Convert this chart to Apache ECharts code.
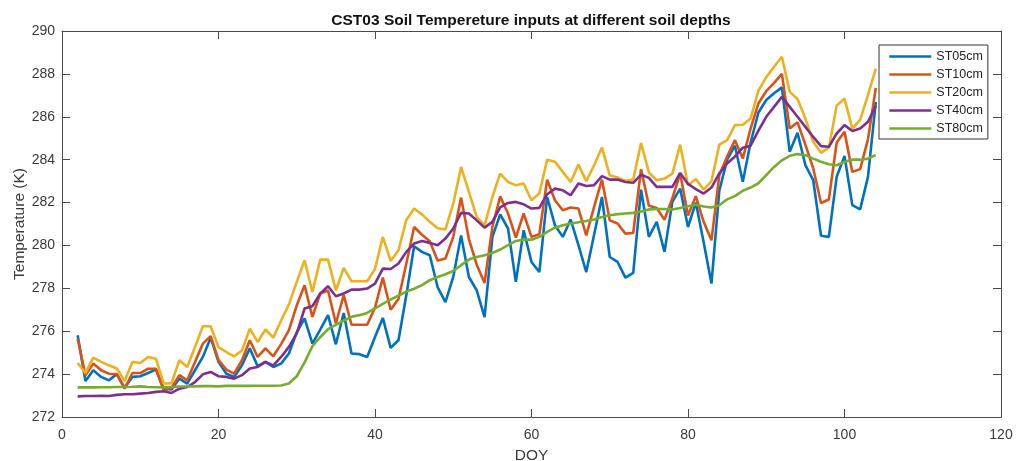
<!DOCTYPE html>
<html>
<head>
<meta charset="utf-8">
<script src="https://cdn.jsdelivr.net/npm/echarts@6/dist/echarts.min.js"></script>
<style>
  html, body { margin: 0; padding: 0; background: #ffffff; }
  #chart { width: 1017px; height: 461px; }
</style>
</head>
<body>
<div id="chart"></div>
<script>
// Daily soil temperature (K) at CST03, DOY 2 .. 104
const firstDoy = 2;

const st05 = [
  275.81, 273.68, 274.18, 273.87, 273.71, 274.00, 273.37, 273.87, 273.90, 274.05,
  274.21, 273.32, 273.28, 273.79, 273.56, 274.18, 274.80, 275.70, 274.57, 274.02,
  273.87, 274.41, 275.20, 274.37, 274.57, 274.33, 274.49, 274.96, 275.95, 276.60,
  275.42, 276.08, 276.75, 275.39, 276.85, 274.96, 274.93, 274.80, 275.73, 276.62,
  275.22, 275.58, 277.68, 279.96, 279.70, 279.54, 278.06, 277.36, 278.53, 280.47,
  278.53, 277.91, 276.66, 280.40, 281.45, 280.79, 278.30, 280.71, 279.23, 278.76,
  282.26, 280.94, 280.40, 281.21, 280.01, 278.76, 280.50, 282.26, 279.46, 279.23,
  278.50, 278.72, 282.60, 280.40, 281.10, 279.70, 282.03, 282.65, 280.86, 282.00,
  280.15, 278.22, 282.55, 284.00, 284.65, 282.97, 284.80, 286.20, 286.78, 287.10,
  287.37, 284.37, 285.25, 283.75, 283.05, 280.45, 280.40, 283.20, 284.17, 281.88,
  281.68, 283.20, 286.70
];

const st10 = [
  275.65, 273.95, 274.49, 274.18, 274.02, 274.00, 273.32, 274.05, 274.05, 274.25,
  274.25, 273.24, 273.37, 273.95, 273.71, 274.57, 275.42, 275.77, 274.65, 274.21,
  274.02, 274.65, 275.58, 274.80, 275.20, 274.83, 275.40, 276.05, 277.20, 278.14,
  276.67, 277.76, 277.90, 276.36, 277.68, 276.30, 276.30, 276.30, 277.10, 278.50,
  277.00, 277.50, 279.15, 280.86, 280.50, 280.20, 279.30, 279.39, 280.40, 282.23,
  280.30, 279.10, 278.25, 280.86, 282.29, 281.49, 280.37, 281.49, 280.40, 280.52,
  283.07, 282.11, 281.64, 281.77, 281.72, 280.47, 281.80, 283.07, 281.17, 281.02,
  280.55, 280.58, 283.56, 281.85, 281.75, 281.20, 282.20, 283.35, 281.40, 282.30,
  281.10, 280.24, 283.27, 284.15, 284.91, 284.05, 285.45, 286.62, 287.20, 287.58,
  288.00, 285.45, 285.74, 284.70, 283.60, 281.98, 282.14, 284.80, 285.30, 283.43,
  283.56, 284.95, 287.35
];

const st20 = [
  274.52, 274.05, 274.77, 274.57, 274.41, 274.26, 273.68, 274.57, 274.52, 274.80,
  274.72, 273.55, 273.58, 274.65, 274.33, 275.26, 276.23, 276.23, 275.26, 275.03,
  274.83, 275.10, 276.12, 275.50, 276.08, 275.70, 276.50, 277.25, 278.30, 279.31,
  277.83, 279.34, 279.34, 277.90, 278.95, 278.33, 278.33, 278.33, 278.90, 280.40,
  279.28, 279.78, 281.18, 281.72, 281.45, 281.10, 280.80, 280.75, 281.95, 283.66,
  282.50, 281.33, 280.94, 282.26, 283.35, 282.96, 282.81, 282.89, 282.11, 282.42,
  284.00, 283.90, 283.43, 282.96, 283.77, 283.00, 283.74, 284.57, 283.27, 283.17,
  283.01, 283.07, 284.78, 283.40, 283.04, 283.12, 283.35, 284.70, 282.81, 283.10,
  282.60, 283.00, 284.70, 284.91, 285.61, 285.63, 285.92, 287.22, 287.85, 288.33,
  288.80, 287.16, 286.83, 285.92, 284.83, 284.32, 284.56, 286.52, 286.85, 285.45,
  285.86, 287.01, 288.25
];

const st40 = [
  272.96, 272.98, 272.98, 272.99, 272.98, 273.03, 273.06, 273.06, 273.09, 273.12,
  273.17, 273.20, 273.12, 273.32, 273.40, 273.63, 273.99, 274.10, 273.90, 273.87,
  273.79, 273.95, 274.26, 274.33, 274.57, 274.41, 274.80, 275.27, 275.90, 277.06,
  277.17, 277.76, 278.10, 277.63, 277.76, 277.94, 277.94, 277.99, 278.22, 278.92,
  278.90, 279.16, 279.70, 280.09, 280.21, 280.12, 280.01, 280.32, 280.79, 281.52,
  281.49, 281.17, 280.83, 281.10, 281.77, 281.98, 282.03, 281.92, 281.72, 281.75,
  282.39, 282.65, 282.57, 282.34, 282.89, 282.77, 282.81, 283.23, 283.07, 283.07,
  282.96, 282.92, 283.30, 283.15, 282.73, 282.73, 282.73, 283.38, 282.87, 282.63,
  282.42, 282.70, 283.36, 283.82, 284.15, 284.56, 284.65, 285.35, 286.00, 286.46,
  286.93, 286.46, 286.00, 285.53, 285.06, 284.63, 284.60, 285.22, 285.61, 285.34,
  285.45, 285.77, 286.50
];

const st80 = [
  273.38, 273.38, 273.38, 273.39, 273.39, 273.40, 273.40, 273.41, 273.43, 273.40,
  273.39, 273.38, 273.40, 273.42, 273.42, 273.43, 273.44, 273.44, 273.43, 273.45,
  273.46, 273.45, 273.45, 273.46, 273.46, 273.46, 273.47, 273.56, 273.90, 274.55,
  275.30, 275.72, 276.10, 276.30, 276.50, 276.67, 276.75, 276.85, 277.06, 277.28,
  277.48, 277.66, 277.85, 277.98, 278.15, 278.38, 278.53, 278.66, 278.81, 279.08,
  279.34, 279.46, 279.54, 279.65, 279.81, 280.01, 280.21, 280.27, 280.27, 280.40,
  280.63, 280.83, 280.94, 281.02, 281.08, 281.14, 281.21, 281.33, 281.41, 281.46,
  281.49, 281.52, 281.58, 281.68, 281.70, 281.70, 281.68, 281.75, 281.83, 281.90,
  281.82, 281.77, 281.87, 282.15, 282.30, 282.55, 282.70, 282.90, 283.28, 283.66,
  283.97, 284.18, 284.26, 284.21, 284.05, 283.90, 283.79, 283.74, 283.90, 284.00,
  284.00, 284.05, 284.21
];

const seriesNames = ['ST05cm', 'ST10cm', 'ST20cm', 'ST40cm', 'ST80cm'];
const seriesColors = ['#0072BD', '#D95319', '#EDB120', '#7E2F8E', '#77AC30'];
const seriesValues = [st05, st10, st20, st40, st80];

// axis ranges and ticks
const xMin = 0, xMax = 120, xStep = 20;
const yMin = 272, yMax = 290, yStep = 2;

const font = "'Liberation Sans', Arial, Helvetica, sans-serif";
const axisColor = '#4a4a4a';
const labelColor = '#3a3a3a';
const lineWidth = 2.6;

function pairs(values) {
  return values.map((v, i) => [firstDoy + i, v]);
}

// value axis drawn as one side of the boxed frame, ticks pointing inwards
function boxAxis(extra) {
  return Object.assign({
    type: 'value',
    axisLine: { show: true, onZero: false, lineStyle: { color: axisColor, width: 1 } },
    axisTick: { show: true, inside: true, length: 8, lineStyle: { color: axisColor, width: 1 } },
    splitLine: { show: false },
    axisLabel: { show: false }
  }, extra);
}

const chart = echarts.init(document.getElementById('chart'), null, { renderer: 'canvas' });

chart.setOption({
  animation: false,
  backgroundColor: '#ffffff',
  title: {
    text: 'CST03 Soil Tempereture inputs at different soil depths',
    left: 526,
    top: 8,
    textAlign: 'center',
    textStyle: { fontFamily: font, fontSize: 15.5, fontWeight: 'bold', color: '#111111' }
  },
  grid: {
    left: 62, right: 16, top: 31, bottom: 44,
    containLabel: false,
    outerBoundsMode: 'none'
  },
  legend: {
    orient: 'vertical',
    left: 879,
    top: 45,
    itemWidth: 42,
    itemHeight: 14,
    itemGap: 5,
    padding: [5, 5, 4, 9],
    borderColor: '#333333',
    borderWidth: 1,
    backgroundColor: '#ffffff',
    data: seriesNames,
    itemStyle: { opacity: 0 },
    lineStyle: { width: lineWidth },
    textStyle: { fontFamily: font, fontSize: 12.5, color: '#222222' }
  },
  xAxis: [
    boxAxis({
      position: 'bottom',
      min: xMin, max: xMax, interval: xStep,
      name: 'DOY',
      nameLocation: 'middle',
      nameGap: 31,
      nameMoveOverlap: false,
      nameTextStyle: { fontFamily: font, fontSize: 15.5, color: labelColor },
      axisLabel: { show: true, margin: 11, fontFamily: font, fontSize: 14, color: labelColor }
    }),
    boxAxis({ position: 'top', min: xMin, max: xMax, interval: xStep })
  ],
  yAxis: [
    boxAxis({
      position: 'left',
      min: yMin, max: yMax, interval: yStep,
      name: 'Temperature (K)',
      nameLocation: 'middle',
      nameGap: 34,
      nameMoveOverlap: false,
      nameTextStyle: { fontFamily: font, fontSize: 15.5, color: labelColor },
      axisLabel: { show: true, margin: 7, fontFamily: font, fontSize: 14, color: labelColor }
    }),
    boxAxis({ position: 'right', min: yMin, max: yMax, interval: yStep })
  ],
  series: seriesValues.map((vals, k) => ({
    name: seriesNames[k],
    type: 'line',
    xAxisIndex: 0,
    yAxisIndex: 0,
    data: pairs(vals),
    showSymbol: false,
    symbol: 'none',
    symbolSize: 0,
    color: seriesColors[k],
    lineStyle: { color: seriesColors[k], width: lineWidth },
    z: 2 + k
  }))
});
</script>
</body>
</html>
